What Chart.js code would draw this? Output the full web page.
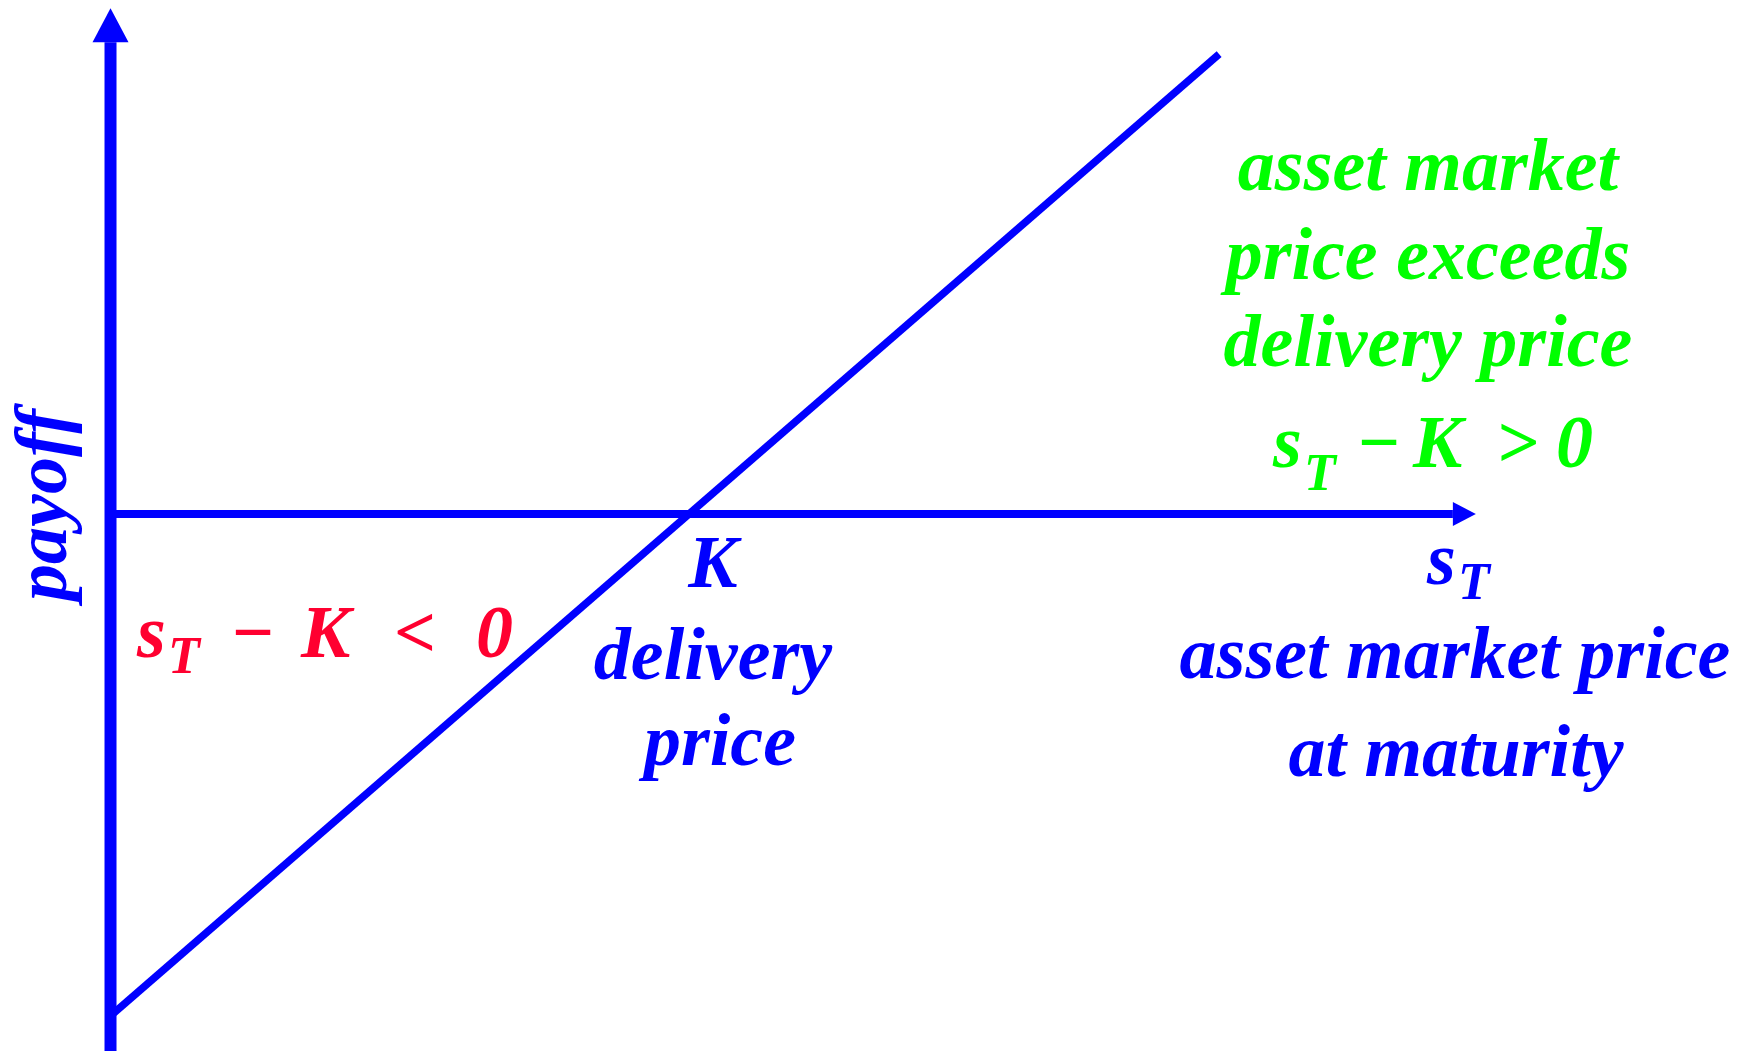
<!DOCTYPE html>
<html>
<head>
<meta charset="utf-8">
<script src="https://cdn.jsdelivr.net/npm/chart.js@4.4.0/dist/chart.umd.min.js"></script>
<style>
  html, body { margin: 0; padding: 0; background: #fff; }
  #wrap { width: 1752px; height: 1051px; position: relative; }
</style>
</head>
<body>
<div id="wrap"><canvas id="myChart"></canvas></div>
<script>
// long forward payoff at maturity: s_T - K
const strikeK = 100;
const spotPrices = [0, 191.6];
const payoffs = [-100, 91.6];

// the two axes, drawn as lines (arrow heads go past the last point)
const xAxisSpot = [0, 232];
const xAxisPayoff = [0, 0];
const yAxisSpot = [0, 0];
const yAxisPayoff = [-107, 94];

const BLUE = '#0000ff';
const GREEN = '#00ff00';
const RED = '#ff0030';
const FONT = '"Liberation Serif", "Times New Roman", serif';

const toPoints = (xs, ys) => xs.map((x, i) => ({ x: x, y: ys[i] }));

// filled triangle after the last point of a dataset
const arrowPlugin = {
    id: 'arrows',
    afterDatasetsDraw(chart) {
        const ctx = chart.ctx;
        chart.data.datasets.forEach((ds, i) => {
            if (!ds.arrow) return;
            const pts = chart.getDatasetMeta(i).data;
            const a = pts[pts.length - 2], b = pts[pts.length - 1];
            const dx = b.x - a.x, dy = b.y - a.y;
            const len = Math.hypot(dx, dy);
            const ux = dx / len, uy = dy / len;
            const h = ds.arrow.half, l = ds.arrow.len;
            ctx.save();
            ctx.fillStyle = ds.borderColor;
            ctx.beginPath();
            ctx.moveTo(b.x - uy * h, b.y + ux * h);
            ctx.lineTo(b.x + ux * l, b.y + uy * l);
            ctx.lineTo(b.x + uy * h, b.y - ux * h);
            ctx.closePath();
            ctx.fill();
            ctx.restore();
        });
    }
};

// text: [string, x, y, colour, size, align]
const labels = [
    ['asset market', 1428, 190, GREEN, 74, 'center'],
    ['price exceeds', 1428, 279, GREEN, 74, 'center'],
    ['delivery price', 1428, 366, GREEN, 74, 'center'],
    ['s', 1273, 467, GREEN, 74, 'left'],
    ['T', 1304, 490, GREEN, 52, 'left'],
    ['\u2212', 1356, 467, GREEN, 74, 'left'],
    ['K', 1413, 467, GREEN, 74, 'left'],
    ['>', 1496, 467, GREEN, 74, 'left'],
    ['0', 1556, 467, GREEN, 74, 'left'],

    ['s', 137, 657, RED, 74, 'left'],
    ['T', 168, 673, RED, 52, 'left'],
    ['\u2212', 230, 657, RED, 74, 'left'],
    ['K', 301, 657, RED, 74, 'left'],
    ['<', 394, 657, RED, 74, 'left'],
    ['0', 476, 657, RED, 74, 'left'],

    ['K', 713, 587, BLUE, 74, 'center'],
    ['delivery', 713, 679, BLUE, 74, 'center'],
    ['price', 720, 765, BLUE, 74, 'center'],

    ['s', 1427, 584, BLUE, 74, 'left'],
    ['T', 1458, 599, BLUE, 52, 'left'],
    ['asset market price', 1455, 678, BLUE, 74, 'center'],
    ['at maturity', 1456, 776, BLUE, 74, 'center']
];

const textPlugin = {
    id: 'texts',
    afterDraw(chart) {
        const ctx = chart.ctx;
        ctx.save();
        ctx.textBaseline = 'alphabetic';
        labels.forEach(([t, x, y, c, s, al]) => {
            ctx.font = 'italic bold ' + s + 'px ' + FONT;
            ctx.fillStyle = c;
            ctx.textAlign = al;
            ctx.fillText(t, x, y);
        });
        // y axis title, reading upwards
        ctx.translate(66, 505);
        ctx.rotate(-Math.PI / 2);
        ctx.font = 'italic bold 74px ' + FONT;
        ctx.fillStyle = BLUE;
        ctx.textAlign = 'center';
        ctx.fillText('payoff', 0, 0);
        ctx.restore();
    }
};

const ctx = document.querySelector('#myChart');
const myChart = new Chart(ctx, {
    type: 'scatter',
    data: {
        datasets: [
            {
                label: 'payoff',
                data: toPoints(spotPrices, payoffs),
                showLine: true,
                borderColor: BLUE,
                borderWidth: 7.5,
                pointRadius: 0
            },
            {
                label: 'x axis',
                data: toPoints(xAxisSpot, xAxisPayoff),
                showLine: true,
                borderColor: BLUE,
                borderWidth: 8,
                borderCapStyle: 'butt',
                pointRadius: 0,
                arrow: { len: 23, half: 12 }
            },
            {
                label: 'y axis',
                data: toPoints(yAxisSpot, yAxisPayoff),
                showLine: true,
                borderColor: BLUE,
                borderWidth: 12,
                borderCapStyle: 'butt',
                pointRadius: 0,
                arrow: { len: 34, half: 18 }
            }
        ]
    },
    options: {
        responsive: true,
        maintainAspectRatio: false,
        animation: false,
        layout: { padding: 0 },
        plugins: { legend: { display: false }, tooltip: { enabled: false } },
        scales: {
            x: { type: 'linear', display: false, min: -19.1, max: 283.7 },
            y: { type: 'linear', display: false, min: -107, max: 102.4 }
        }
    },
    plugins: [arrowPlugin, textPlugin]
});
</script>
</body>
</html>
